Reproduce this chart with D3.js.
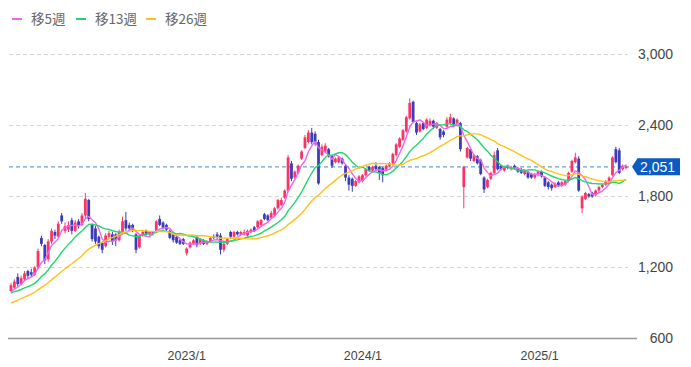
<!DOCTYPE html>
<html>
<head>
<meta charset="utf-8">
<script src="https://cdn.jsdelivr.net/npm/d3@7"></script>
<style>
  body { margin: 0; background: #fff; }
  svg { display: block; }
</style>
</head>
<body>
<div id="chart"></div>
<script>
// weekly candles, first week starts 2022-01-03
const firstWeek = "2022-01-03"

const opens = [
    1000,1030,1120,1060,1100,1170,1160,1140,1200,1450,1390,1270,1420,1500,1460,1640,1510,1520,1600,1510,
    1590,1560,1640,1770,1560,1530,1460,1410,1380,1460,1480,1480,1430,1490,1600,1560,1560,1480,1370,1470,
    1510,1480,1500,1500,1610,1580,1560,1510,1480,1460,1430,1440,1320,1370,1400,1460,1400,1430,1400,1420,
    1460,1480,1470,1350,1400,1500,1460,1500,1480,1480,1470,1500,1540,1540,1560,1650,1640,1620,1640,1700,
    1730,1790,1850,2080,1960,2000,2120,2210,2260,2340,2330,2260,2150,2180,2200,2140,2090,2090,2120,2060,
    1960,1950,1890,1920,1930,1980,2050,2020,2060,2050,2040,2020,2060,2080,2150,2220,2280,2350,2460,2600,
    2420,2350,2420,2380,2400,2440,2380,2370,2350,2390,2420,2460,2420,2420,1880,2130,2200,2100,2140,2110,
    1960,1880,1950,2000,2190,2060,2020,2060,2030,2060,2040,2030,1990,2010,1990,1960,1980,2010,1960,1920,
    1900,1880,1920,1890,1900,1930,2010,2090,2120,1700,1780,1820,1830,1810,1850,1880,1900,1920,1980,2200,
    2190,2030,2040
]
const closes = [
    1050,1080,1060,1110,1150,1130,1140,1200,1340,1400,1260,1420,1510,1470,1570,1590,1550,1560,1510,1580,
    1550,1640,1780,1610,1440,1420,1380,1350,1470,1490,1420,1430,1500,1590,1530,1530,1520,1350,1470,1500,
    1480,1500,1490,1590,1560,1530,1520,1450,1430,1410,1400,1400,1360,1410,1430,1390,1440,1400,1420,1450,
    1450,1460,1350,1400,1440,1460,1500,1480,1500,1500,1510,1520,1510,1590,1600,1610,1600,1660,1700,1770,
    1770,1850,2130,1950,2010,2060,2180,2300,2340,2260,2250,1910,2220,2230,2150,2060,2120,2130,2080,1960,
    1900,1890,1930,1970,1980,2030,2020,2050,2030,2000,1980,2060,2080,2160,2240,2290,2360,2470,2590,2430,
    2340,2410,2370,2450,2440,2390,2420,2300,2320,2450,2470,2410,2450,2200,2050,2210,2120,2150,2080,1990,
    1860,1940,2000,2150,2030,2030,2050,2040,2050,2040,2010,2000,2020,1960,1960,1990,2010,1970,1890,1880,
    1870,1910,1890,1920,1930,2000,2100,2130,1850,1800,1830,1800,1800,1850,1880,1900,1930,1960,2130,2090,
    2000,2060,2051
]
const highs = [
    1070,1100,1150,1130,1170,1180,1190,1210,1360,1470,1400,1440,1530,1520,1590,1660,1580,1590,1620,1600,
    1610,1660,1830,1780,1570,1550,1470,1420,1490,1510,1500,1490,1520,1630,1670,1580,1570,1490,1480,1510,
    1520,1510,1510,1600,1640,1590,1570,1520,1490,1470,1450,1450,1370,1420,1440,1470,1450,1440,1430,1460,
    1480,1500,1490,1410,1450,1510,1510,1510,1510,1520,1520,1530,1550,1600,1610,1660,1650,1680,1710,1780,
    1790,1860,2150,2100,2020,2070,2190,2320,2360,2380,2350,2280,2240,2250,2210,2150,2130,2140,2130,2070,
    1980,1960,1940,1980,1990,2040,2060,2060,2090,2060,2050,2070,2090,2170,2250,2300,2370,2480,2630,2610,
    2430,2420,2430,2460,2460,2450,2430,2380,2360,2470,2500,2470,2460,2430,2060,2220,2210,2160,2150,2120,
    1970,1950,2010,2180,2210,2070,2060,2070,2060,2070,2050,2040,2030,2020,2000,2000,2020,2020,1970,1930,
    1910,1920,1930,1930,1940,2010,2110,2170,2140,1810,1840,1830,1840,1860,1890,1910,1940,1970,2140,2220,
    2210,2070,2070
]
const lows = [
    990,1020,1040,1050,1090,1110,1120,1130,1190,1380,1230,1250,1400,1440,1450,1570,1490,1500,1480,1500,
    1530,1550,1620,1590,1420,1400,1360,1320,1370,1450,1390,1380,1420,1480,1510,1500,1500,1320,1360,1460,
    1470,1470,1470,1490,1550,1520,1500,1440,1410,1400,1390,1390,1300,1360,1390,1370,1390,1390,1390,1410,
    1440,1440,1310,1330,1390,1440,1450,1470,1470,1470,1460,1490,1500,1530,1550,1600,1590,1610,1630,1690,
    1720,1780,1840,1930,1950,1990,2110,2200,2250,2240,2230,1900,2140,2170,2130,2040,2080,2080,2070,1930,
    1850,1840,1880,1910,1920,1970,2010,2010,2020,1940,1920,2010,2050,2070,2140,2210,2270,2340,2450,2420,
    2320,2340,2360,2370,2390,2370,2370,2280,2300,2380,2410,2400,2410,2180,1700,2120,2100,2090,2070,1980,
    1830,1870,1940,1990,2020,2020,2010,2030,2020,2030,2000,1990,1980,1950,1950,1950,1970,1960,1880,1860,
    1850,1870,1880,1880,1890,1920,2000,2080,1840,1660,1770,1790,1790,1800,1840,1870,1890,1910,1970,2080,
    1990,2020,2030
]
// closes of the 25 weeks before the window (only used for the moving averages)
const prevCloses = [
    760,770,780,790,800,805,810,820,830,840,850,860,880,
    940,960,970,980,985,990,995,1010,970,980,985,990
]

const maNames = ["移5週", "移13週", "移26週"]
const maWeeks = [5, 13, 26]
const maColors = ["#f064ef", "#1fd66f", "#ffc21a"]

const yTicks = [600, 1200, 1800, 2400, 3000]
const lastPrice = 2051

const upColor = "#fb3466"
const downColor = "#3c3cb9"


function CandleChart({
    width = 691,
    height = 367,
    left = 11,
    right = 626,
    top = 54.5,
    bottom = 338.5
} = {}) {
    const parse = d3.timeParse("%Y-%m-%d")
    const start = parse(firstWeek)
    const dates = closes.map((c, i) => d3.timeMonday.offset(start, i))
    const I = d3.range(closes.length)

    const x = d3.scaleTime([dates[0], dates[dates.length - 1]], [left, right])
    const y = d3.scaleLinear([600, 3000], [bottom, top])

    const svg = d3.create("svg")
        .attr("width", width)
        .attr("height", height)
        .attr("viewBox", [0, 0, width, height])

    // grid
    svg.append("g")
        .selectAll("line")
        .data(yTicks.filter(d => d > 600))
        .join("line")
        .attr("x1", 9)
        .attr("x2", 628)
        .attr("y1", d => y(d))
        .attr("y2", d => y(d))
        .attr("stroke", "#d6d6d6")
        .attr("stroke-dasharray", "4,3")

    // y labels
    svg.append("g")
        .attr("transform", `translate(673,0)`)
        .call(d3.axisRight(y).tickValues(yTicks).tickSize(0).tickFormat(d3.format(",")))
        .call(g => g.select(".domain").remove())
        .call(g => g.selectAll("text")
            .attr("x", 0)
            .attr("text-anchor", "end")
            .attr("fill", "#444")
            .style("font", "14px 'Liberation Sans', Arial, sans-serif"))

    // x axis
    svg.append("line")
        .attr("x1", 8).attr("x2", 637)
        .attr("y1", bottom).attr("y2", bottom)
        .attr("stroke", "#999")
        .attr("stroke-width", 1.5)

    svg.append("g")
        .attr("transform", `translate(0,${bottom})`)
        .call(d3.axisBottom(x).ticks(d3.timeYear.every(1)).tickSize(0).tickFormat(d3.timeFormat("%Y/%-m")))
        .call(g => g.select(".domain").remove())
        .call(g => g.selectAll("text")
            .attr("dy", "1.45em")
            .attr("fill", "#444")
            .style("font", "12.5px 'Liberation Sans', Arial, sans-serif"))

    // last price line
    svg.append("line")
        .attr("x1", 9).attr("x2", 631)
        .attr("y1", y(lastPrice)).attr("y2", y(lastPrice))
        .attr("stroke", "#6b9fd8")
        .attr("stroke-width", 1.2)
        .attr("stroke-dasharray", "4,3")

    // candles
    const bw = 2.8
    const candle = svg.append("g")
        .selectAll("g")
        .data(I)
        .join("g")
        .attr("fill", i => closes[i] >= opens[i] ? upColor : downColor)
        .attr("stroke", i => closes[i] >= opens[i] ? upColor : downColor)

    candle.append("line")
        .attr("x1", i => x(dates[i]))
        .attr("x2", i => x(dates[i]))
        .attr("y1", i => y(highs[i]))
        .attr("y2", i => y(lows[i]))
        .attr("stroke-width", 1)

    candle.append("rect")
        .attr("stroke", "none")
        .attr("x", i => x(dates[i]) - bw / 2)
        .attr("width", bw)
        .attr("y", i => y(Math.max(opens[i], closes[i])))
        .attr("height", i => Math.max(1, Math.abs(y(opens[i]) - y(closes[i]))))

    // moving averages
    const all = prevCloses.concat(closes)
    const off = prevCloses.length
    maWeeks.forEach((n, k) => {
        const ma = I.map(i => d3.mean(all.slice(off + i - n + 1, off + i + 1)))
        svg.append("path")
            .datum(I)
            .attr("fill", "none")
            .attr("stroke", maColors[k])
            .attr("stroke-width", 1.4)
            .attr("stroke-linejoin", "round")
            .attr("d", d3.line().x(i => x(dates[i])).y(i => y(ma[i])))
    })

    // price tag
    const ty = y(lastPrice)
    svg.append("path")
        .attr("d", `M632,${ty} L637.5,${ty - 8.5} H680 V${ty + 8.5} H637.5 Z`)
        .attr("fill", "#0a5cc2")
    svg.append("text")
        .attr("x", 657.5)
        .attr("y", ty)
        .attr("dy", "0.36em")
        .attr("text-anchor", "middle")
        .attr("fill", "#fff")
        .style("font", "14px 'Liberation Sans', Arial, sans-serif")
        .text(d3.format(",")(lastPrice))

    // legend
    const legendX = [12, 76, 146]
    const legend = svg.append("g")
        .selectAll("g")
        .data(maNames)
        .join("g")
        .attr("transform", (d, k) => `translate(${legendX[k]},19)`)
    legend.append("line")
        .attr("x1", 0).attr("x2", 10)
        .attr("stroke", (d, k) => maColors[k])
        .attr("stroke-width", 2)
    legend.append("text")
        .attr("x", 19)
        .attr("dy", "0.36em")
        .attr("fill", "#666")
        .style("font", "13.5px 'Noto Sans CJK JP', sans-serif")
        .text(d => d)

    return svg.node()
}

document.getElementById("chart").append(CandleChart())
</script>
</body>
</html>
